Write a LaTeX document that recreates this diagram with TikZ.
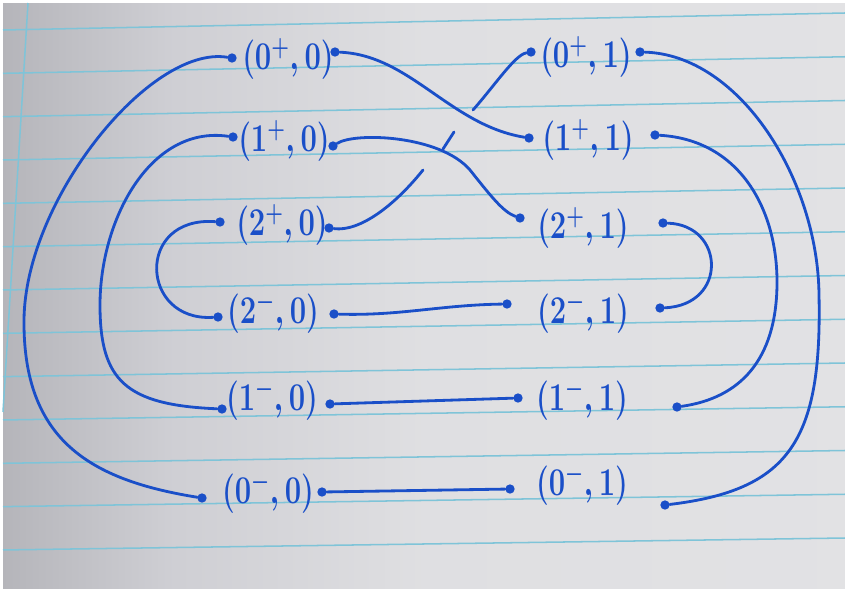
\documentclass[tikz,border=0pt]{standalone}
\usepackage{graphicx}
\usepackage{xcolor}
\definecolor{penBlue}{HTML}{1A4FC8}
\definecolor{ruleBlue}{HTML}{7FC4D8}
\usepackage{tikz}
\pgfdeclarehorizontalshading{paper}{100bp}{rgb(0bp)=(0.71,0.71,0.73); rgb(25bp)=(0.71,0.71,0.73); rgb(35bp)=(0.81,0.81,0.83); rgb(50bp)=(0.875,0.875,0.885); rgb(75bp)=(0.885,0.885,0.895); rgb(100bp)=(0.885,0.885,0.895)}
\newcommand{\hw}[1]{\scalebox{1}[1.35]{$#1$}}

\begin{document}
\begin{tikzpicture}[x=0.03cm, y=-0.03cm,
    every node/.style={font=\fontsize{24}{28}\selectfont\boldmath},
    lab/.style={text=penBlue, inner sep=0pt},
    dot/.style={circle, fill=penBlue, inner sep=0pt, minimum size=2.8mm},
    strand/.style={draw=penBlue, line width=2.4pt, line cap=round},
    rule/.style={draw=ruleBlue, line width=1.3pt}]
  \useasboundingbox (0,0) rectangle (845,588);
  \fill[white] (0,0) rectangle (845,588);
  \shade[shading=paper] (3,3) rectangle (845,588);
  \foreach \i in {0,...,12}
    \draw[rule] (3,{30+43.33*\i}) -- (845,{13+43.75*\i});
  \draw[rule] (28,3) -- (3,412);
  \node[lab] (l0p) at (288,59) {\hw{(0^+,0)}};
  \node[lab] (l1p) at (284,141) {\hw{(1^+,0)}};
  \node[lab] (l2p) at (282,225) {\hw{(2^+,0)}};
  \node[lab] (l2m) at (273,313) {\hw{(2^-,0)}};
  \node[lab] (l1m) at (272,400) {\hw{(1^-,0)}};
  \node[lab] (l0m) at (268,493) {\hw{(0^-,0)}};
  \node[lab] (r0p) at (586,57) {\hw{(0^+,1)}};
  \node[lab] (r1p) at (588,140) {\hw{(1^+,1)}};
  \node[lab] (r2p) at (583,228) {\hw{(2^+,1)}};
  \node[lab] (r2m) at (583,313) {\hw{(2^-,1)}};
  \node[lab] (r1m) at (582,400) {\hw{(1^-,1)}};
  \node[lab] (r0m) at (582,485) {\hw{(0^-,1)}};
  \node[dot] (l0pW) at (232,58) {};
  \node[dot] (l0pE) at (335,52) {};
  \node[dot] (l1pW) at (233,137) {};
  \node[dot] (l1pE) at (333,146) {};
  \node[dot] (l2pW) at (220,222) {};
  \node[dot] (l2pE) at (329,228) {};
  \node[dot] (l2mW) at (218,317) {};
  \node[dot] (l2mE) at (334,314) {};
  \node[dot] (l1mW) at (222,409) {};
  \node[dot] (l1mE) at (330,404) {};
  \node[dot] (l0mW) at (202,498) {};
  \node[dot] (l0mE) at (322,492) {};
  \node[dot] (r0pW) at (531,52) {};
  \node[dot] (r0pE) at (640,52) {};
  \node[dot] (r1pW) at (529,138) {};
  \node[dot] (r1pE) at (655,135) {};
  \node[dot] (r2pW) at (520,218) {};
  \node[dot] (r2pE) at (663,223) {};
  \node[dot] (r2mW) at (507,304) {};
  \node[dot] (r2mE) at (660,308) {};
  \node[dot] (r1mW) at (518,398) {};
  \node[dot] (r1mE) at (677,407) {};
  \node[dot] (r0mW) at (510,489) {};
  \node[dot] (r0mE) at (665,505) {};
  \coordinate (cutA) at (423,170);
  \coordinate (cutB) at (443,149);
  \coordinate (cutC) at (454,132);
  \coordinate (cutD) at (473,110);
  \draw[strand] (l0pW) .. controls (150,45) and (25,200) .. (24,320) .. controls (23,440) and (90,480) .. (l0mW);
  \draw[strand] (l1pW) .. controls (150,125) and (100,220) .. (100,305) .. controls (100,380) and (125,405) .. (l1mW);
  \draw[strand] (l2pW) .. controls (135,216) and (140,322) .. (l2mW);
  \draw[strand] (r0pE) .. controls (740,55) and (818,180) .. (819,295) .. controls (822,440) and (790,490) .. (r0mE);
  \draw[strand] (r1pE) .. controls (740,140) and (778,210) .. (777,285) .. controls (776,360) and (740,398) .. (r1mE);
  \draw[strand] (r2pE) .. controls (725,225) and (728,305) .. (r2mE);
  \draw[strand] (l0pE) .. controls (410,55) and (450,125) .. (r1pW);
  \draw[strand] (l1pE) .. controls (355,132) and (440,135) .. (470,170) .. controls (490,195) and (503,212) .. (r2pW);
  \draw[strand] (l2pE) .. controls (360,232) and (395,205) .. (cutA);
  \draw[strand] (cutB) -- (cutC);
  \draw[strand] (cutD) .. controls (495,85) and (515,55) .. (r0pW);
  \draw[strand] (l2mE) .. controls (400,316) and (440,305) .. (r2mW);
  \draw[strand] (l1mE) -- (r1mW);
  \draw[strand] (l0mE) -- (r0mW);
\end{tikzpicture}
\end{document}
